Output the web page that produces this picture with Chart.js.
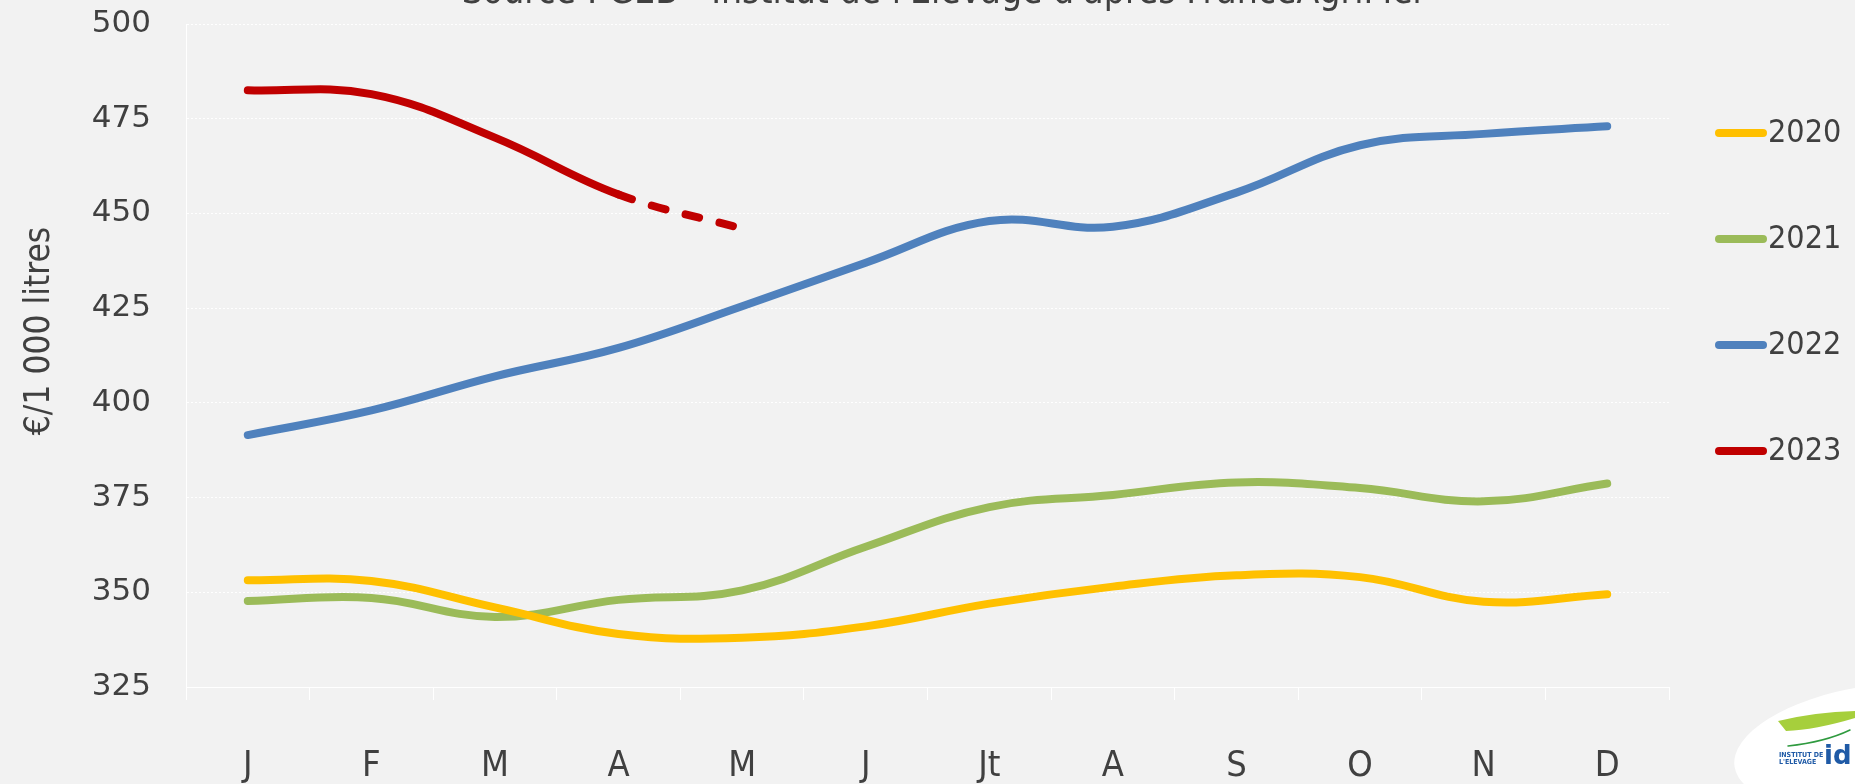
<!DOCTYPE html>
<html><head><meta charset="utf-8">
<script src="https://cdn.jsdelivr.net/npm/chart.js@4/dist/chart.umd.min.js"></script>
<style>html,body{margin:0;padding:0;background:#f2f2f2;overflow:hidden}#wrap{width:1855px;height:784px;position:relative}</style>
</head><body><div id="wrap"><canvas id="c"></canvas></div>
<script>
const months = ['J','F','M','A','M','J','Jt','A','S','O','N','D'];
const seriesNames = ['2020','2021','2022','2023'];
const v2020 = [353.2, 353, 346, 339, 338, 341, 347, 351.5, 354.5, 354, 347.5, 349.5];
const v2021 = [347.7, 348.5, 343.5, 348, 350.5, 362, 372.5, 375.7, 379, 377.5, 374, 378.7];
const v2022 = [391.5, 398, 407, 414.5, 425.5, 437, 448, 446.5, 455.5, 468, 471, 473];
const v2023 = [482.5, 481.5, 470, 455, 446];
const colors = ['#FFC000', '#9BBB59', '#4F81BD', '#C00000'];
const yMin = 325, yMax = 500, yStep = 25;
const sourceText = "Source : GEB - Institut de l'Elevage d'après FranceAgriMer";
const yTitle = '€/1 000 litres';
const dashedFromIndex = 3; // 2023: segment after April is provisional

const FONT = '"DejaVu Sans", sans-serif';
const FONTC = '"DejaVu Sans Condensed", "DejaVu Sans", sans-serif';
const TXT = '#404040';

const decor = {
  id: 'decor',
  beforeDraw(chart) {
    const ctx = chart.ctx;
    ctx.save();
    ctx.fillStyle = '#f2f2f2';
    ctx.fillRect(0, 0, chart.width, chart.height);
    ctx.restore();
  },
  afterDraw(chart) {
    const ctx = chart.ctx;
    const area = chart.chartArea;
    ctx.save();
    // source line (cut at top)
    ctx.fillStyle = TXT;
    ctx.font = '37px ' + FONTC;
    ctx.textAlign = 'center';
    ctx.textBaseline = 'alphabetic';
    ctx.fillText(sourceText, 944, 3);
    // y axis title
    ctx.save();
    ctx.translate(40, 331);
    ctx.rotate(-Math.PI / 2);
    ctx.font = '35px ' + FONTC;
    ctx.textAlign = 'center';
    ctx.textBaseline = 'middle';
    ctx.fillText(yTitle, 0, 0);
    ctx.restore();
    // legend
    const x0 = area.right + 50, x1 = x0 + 44;
    chart.data.datasets.forEach((ds, i) => {
      const y = 133 + i * 106;
      ctx.strokeStyle = ds.borderColor;
      ctx.lineWidth = 8;
      ctx.lineCap = 'round';
      ctx.beginPath(); ctx.moveTo(x0, y); ctx.lineTo(x1, y); ctx.stroke();
      ctx.fillStyle = TXT;
      ctx.font = '32px ' + FONTC;
      ctx.textAlign = 'left';
      ctx.textBaseline = 'middle';
      ctx.fillText(ds.label, x1 + 5, y + 1);
    });
    // logo
    ctx.fillStyle = '#ffffff';
    ctx.beginPath(); ctx.ellipse(1872, 746, 139, 60, -0.15, 0, Math.PI * 2); ctx.fill();
    ctx.fillStyle = '#a6cf3c';
    ctx.beginPath();
    ctx.moveTo(1778, 721);
    ctx.quadraticCurveTo(1815, 712, 1855, 711);
    ctx.lineTo(1855, 718);
    ctx.quadraticCurveTo(1815, 730, 1786, 731);
    ctx.closePath(); ctx.fill();
    ctx.strokeStyle = '#2f9a3f'; ctx.lineWidth = 1.5;
    ctx.beginPath(); ctx.moveTo(1788, 746); ctx.quadraticCurveTo(1825, 742, 1850, 730); ctx.stroke();
    ctx.fillStyle = '#1f5aa6';
    ctx.textAlign = 'left'; ctx.textBaseline = 'alphabetic';
    ctx.font = 'bold 7px ' + FONTC;
    ctx.fillText('INSTITUT DE', 1779, 757);
    ctx.fillText("L'ELEVAGE", 1779, 764);
    ctx.font = 'bold 26px ' + FONT;
    ctx.fillText('id', 1824, 764);
    ctx.restore();
  }
};

const datasets = [v2020, v2021, v2022, v2023].map((vals, i) => ({
  label: seriesNames[i],
  data: vals,
  borderColor: colors[i],
  backgroundColor: colors[i],
  borderWidth: 8,
  borderCapStyle: 'round',
  borderJoinStyle: 'round',
  pointRadius: 0,
  pointHoverRadius: 0,
  tension: 0.4,
  fill: false,
  segment: i === 3 ? { borderDash: c => c.p0DataIndex >= dashedFromIndex ? [14, 21] : undefined } : undefined
}));

new Chart(document.getElementById('c'), {
  type: 'line',
  data: { labels: months, datasets },
  options: {
    responsive: true,
    maintainAspectRatio: false,
    animation: false,
    events: [],
    layout: { padding: { top: 24, right: 186, bottom: 0, left: 0 } },
    plugins: { legend: { display: false }, tooltip: { enabled: false }, title: { display: false } },
    scales: {
      x: {
        type: 'category',
        offset: true,
        grid: { drawOnChartArea: false, drawTicks: true, tickLength: 13, color: '#ffffff', tickColor: '#ffffff', offset: true },
        border: { display: true, color: '#ffffff', width: 1 },
        ticks: { color: TXT, font: { family: FONTC, size: 36 }, padding: 45, maxRotation: 0, autoSkip: false },
        afterFit: s => { s.height = 97; s.paddingLeft = 0; s.paddingRight = 0; }
      },
      y: {
        min: yMin, max: yMax,
        grid: { color: '#ffffff', lineWidth: 1, drawTicks: false },
        border: { display: true, color: '#ffffff', width: 1, dash: [2, 2] },
        ticks: { stepSize: yStep, color: TXT, font: { family: FONT, size: 31 }, padding: 35 },
        afterFit: s => { s.width = 186; s.paddingTop = 0; s.paddingBottom = 0; }
      }
    }
  },
  plugins: [decor]
});
</script>
</body></html>
